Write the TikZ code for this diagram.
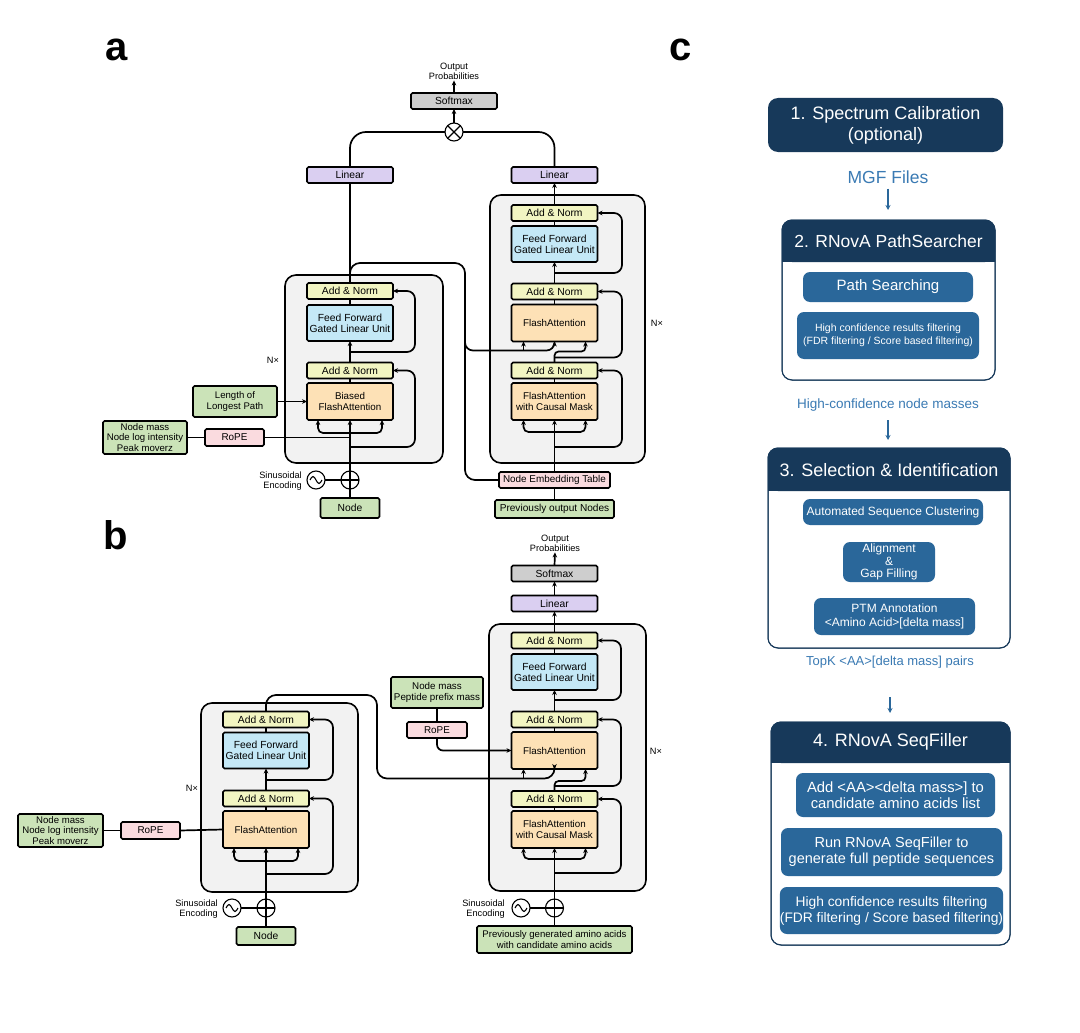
\documentclass[tikz,border=0pt]{standalone}
\usepackage{fontspec}
\setmainfont{Liberation Sans}
\usetikzlibrary{arrows.meta,calc}
\definecolor{cAdd}{HTML}{F2F5C2}
\definecolor{cFF}{HTML}{C4E8F6}
\definecolor{cAtt}{HTML}{FDE1B6}
\definecolor{cLin}{HTML}{DACFF1}
\definecolor{cSm}{HTML}{CECECE}
\definecolor{cGrn}{HTML}{CBE3B8}
\definecolor{cPnk}{HTML}{FADBDF}
\definecolor{cStk}{HTML}{F2F2F2}
\definecolor{cNavy}{HTML}{17395A}
\definecolor{cMid}{HTML}{2A679A}
\definecolor{cTxt}{HTML}{3A7AB3}
\newcommand{\myfs}[2]{\fontsize{#1}{#2}\selectfont}
\begin{document}
\begin{tikzpicture}[x=1pt,y=-1pt,
 blk/.style={draw, line width=1.7pt, rounded corners=1.5pt, inner sep=0pt, outer sep=0pt, align=center, font=\myfs{9.8}{10.8}},
 addn/.style={blk, fill=cAdd, minimum width=86pt, minimum height=16pt, font=\myfs{10.3}{11}},
 ffn/.style={blk, fill=cFF, minimum width=86pt, minimum height=36pt, font=\myfs{10.3}{11.3}},
 attn/.style={blk, fill=cAtt, minimum width=86pt, minimum height=37pt},
 lin/.style={blk, fill=cLin, minimum width=86pt, minimum height=16pt, font=\myfs{10.3}{11}},
 smx/.style={blk, fill=cSm, minimum width=86pt, minimum height=16pt, font=\myfs{10.3}{11}},
 grn/.style={blk, fill=cGrn, font=\myfs{9.6}{10.2}},
 pnk/.style={blk, fill=cPnk, font=\myfs{9.9}{11}},
 stack/.style={draw, line width=1.6pt, fill=cStk, rounded corners=11pt, inner sep=0pt, outer sep=0pt},
 lbl/.style={align=center, inner sep=1pt, font=\myfs{9.2}{10}},
 conn/.style={line width=1.7pt, rounded corners=8pt},
 arr/.style={conn, -{Stealth[length=5pt,width=4.6pt]}},
 circ/.style={circle, draw, line width=1.1pt, fill=white, minimum size=18pt, inner sep=0pt, outer sep=0pt},
 big/.style={font=\myfs{40}{44}\bfseries, inner sep=0pt},
 hdrbox/.style={fill=cNavy, rounded corners=10pt, text=white, align=center, inner sep=0pt, font=\myfs{18}{21}},
 htxt/.style={text=white, inner sep=0pt, font=\myfs{18}{21}},
 cont/.style={draw=cNavy, line width=1pt, fill=white, rounded corners=10pt, inner sep=0pt, outer sep=0pt},
 item/.style={fill=cMid, rounded corners=7pt, text=white, align=center, inner sep=0pt},
 ctext/.style={text=cTxt, inner sep=0pt},
 carr/.style={draw=cMid, line width=1.6pt, -{Stealth[length=5pt,width=5pt]}}
]
\useasboundingbox (0,0) rectangle (1080,1033);

% panel labels
\node[big] (la) at (117,50) {a};
\node[big] (lb) at (116,535) {b};
\node[big] (lc) at (681,50) {c};

% ===================== Panel a =====================
\node[stack, minimum width=158pt, minimum height=188pt] (encA) at (364,369) {};
\node[stack, minimum width=155pt, minimum height=268pt] (decA) at (567.5,329) {};

\node[addn] (eA1) at (350,291) {Add \& Norm};
\node[ffn] (eFF) at (350,323) {Feed Forward\\Gated Linear Unit};
\node[addn] (eA2) at (350,370.5) {Add \& Norm};
\node[attn] (eAtt) at (350,401.5) {Biased\\FlashAttention};
\node[lbl] (nxA) at (273,360) {N×};
\node[grn, minimum width=84pt, minimum height=31pt] (llp) at (235,401.5) {Length of\\Longest Path};
\node[grn, minimum width=84pt, minimum height=33pt] (nmA) at (145,437.5) {Node mass\\Node log intensity\\Peak moverz};
\node[pnk, minimum width=59pt, minimum height=17pt] (ropeA) at (234.5,437.5) {RoPE};
\node[circ] (sinA) at (316,480) {};
\node[circ] (plusA) at (350,480) {};
\node[lbl, anchor=east, align=right] (seA) at (303,481) {Sinusoidal\\Encoding};
\node[grn, minimum width=59pt, minimum height=20pt, font=\myfs{10.3}{11}] (nodeA) at (350,508) {Node};

\node[addn] (dA1) at (554.5,213) {Add \& Norm};
\node[ffn] (dFF) at (554.5,244) {Feed Forward\\Gated Linear Unit};
\node[addn] (dA2) at (554.5,291.5) {Add \& Norm};
\node[attn] (dAtt) at (554.5,323) {FlashAttention};
\node[addn] (dA3) at (554.5,370.5) {Add \& Norm};
\node[attn] (dCa) at (554.5,401.5) {FlashAttention\\with Causal Mask};
\node[lbl] (nxB) at (657,323) {N×};
\node[pnk, minimum width=111pt, minimum height=16pt] (NET) at (554.5,480) {Node Embedding Table};
\node[grn, minimum width=119pt, minimum height=18pt, font=\myfs{10.1}{11}] (pon) at (554.5,509) {Previously output Nodes};

\node[lin] (linA) at (350,175) {Linear};
\node[lin] (linB) at (554.5,175) {Linear};
\node[circ] (ox) at (454,132) {};
\node[smx] (smA) at (454,101) {Softmax};
\node[lbl] (opA) at (454,71) {Output\\Probabilities};

% encoder a connectors
\draw[conn] (nodeA.north) -- (plusA.south);
\draw[conn] (sinA.east) -- (plusA.west);
\draw[line width=1.1pt] (plusA.north) -- (plusA.south) (plusA.west) -- (plusA.east);
\draw[line width=1.1pt] ($(sinA.center)+(-6,0)$) sin ($(sinA.center)+(-3,-3.5)$) cos (sinA.center) sin ($(sinA.center)+(3,3.5)$) cos ($(sinA.center)+(6,0)$);
\draw[arr] (plusA.north) -- (eAtt.south);
\draw[arr, rounded corners=5pt] (350,433) -| ($(eAtt.south)+(-32,0)$);
\draw[arr, rounded corners=5pt] (350,433) -| ($(eAtt.south)+(32,0)$);
\draw[arr] (350,447) -| (415,420) |- (eA2.east);
\draw[conn] (eAtt.north) -- (eA2.south);
\draw[arr] (eA2.north) -- (eFF.south);
\draw[arr] (350,352) -| (415,320) |- (eA1.east);
\draw[conn] (eFF.north) -- (eA1.south);
\draw[conn] (eA1.north) -- (linA.south);
\draw[conn, rounded corners=10pt] (350,280) |- (465,263) |- (NET.west);
\draw[arr] (465,330) |- ($(dAtt.south)+(0,9)$) -- (dAtt.south);
\draw[arr] ($(dAtt.south)+(-31,9)$) -- ($(dAtt.south)+(-31,0)$);
\draw[arr] (llp.east) -- (eAtt.west);
\draw[conn] (nmA.east) -- (ropeA.west);
\draw[conn] (ropeA.east) -- (350,437.5);

% decoder a connectors
\draw[conn] (pon.north) -- (NET.south);
\draw[arr] (NET.north) -- (dCa.south);
\draw[arr, rounded corners=5pt] (554.5,432) -| ($(dCa.south)+(-31,0)$);
\draw[arr, rounded corners=5pt] (554.5,432) -| ($(dCa.south)+(31,0)$);
\draw[arr] (554.5,447) -| (622,420) |- (dA3.east);
\draw[conn] (dCa.north) -- (dA3.south);
\draw[arr, rounded corners=4pt] (dA3.north) |- ($(dAtt.south)+(31,10)$) -- ($(dAtt.south)+(31,0)$);
\draw[arr] (554.5,357.5) -| (622,320) |- (dA2.east);
\draw[conn] (dAtt.north) -- (dA2.south);
\draw[arr] (dA2.north) -- (dFF.south);
\draw[arr] (554.5,273) -| (622,240) |- (dA1.east);
\draw[conn] (dFF.north) -- (dA1.south);
\draw[arr] (dA1.north) -- (linB.south);
\draw[conn, rounded corners=16pt] (linA.north) |- (ox.west);
\draw[conn, rounded corners=16pt] (linB.north) |- (ox.east);
\draw[line width=1.1pt] (ox.45) -- (ox.225) (ox.135) -- (ox.315);
\draw[arr] (ox.north) -- (smA.south);
\draw[arr] (smA.north) -- (opA.south);

% ===================== Panel b =====================
\node[stack, minimum width=157pt, minimum height=189pt] (encB) at (279.5,797.5) {};
\node[stack, minimum width=157pt, minimum height=267pt] (decB) at (567.5,757.5) {};

\node[addn] (fA1) at (266,719.5) {Add \& Norm};
\node[ffn] (fFF) at (266,750.5) {Feed Forward\\Gated Linear Unit};
\node[addn] (fA2) at (266,798.5) {Add \& Norm};
\node[attn] (fAtt) at (266,829.5) {FlashAttention};
\node[lbl] (nxC) at (192,788) {N×};
\node[grn, minimum width=85pt, minimum height=33pt] (nmB) at (60.5,830.5) {Node mass\\Node log intensity\\Peak moverz};
\node[pnk, minimum width=59pt, minimum height=17pt] (ropeB) at (150.5,830.5) {RoPE};
\node[circ] (sinB) at (232,908) {};
\node[circ] (plusB) at (266,908) {};
\node[lbl, anchor=east, align=right] (seB) at (219,909) {Sinusoidal\\Encoding};
\node[grn, minimum width=59pt, minimum height=18pt, font=\myfs{10.3}{11}] (nodeB) at (266,936) {Node};

\node[addn] (gA1) at (554.5,640.5) {Add \& Norm};
\node[ffn] (gFF) at (554.5,672) {Feed Forward\\Gated Linear Unit};
\node[addn] (gA2) at (554.5,719.5) {Add \& Norm};
\node[attn] (gAtt) at (554.5,750.5) {FlashAttention};
\node[addn] (gA3) at (554.5,799) {Add \& Norm};
\node[attn] (gCa) at (554.5,829.5) {FlashAttention\\with Causal Mask};
\node[lbl] (nxD) at (656,751) {N×};
\node[lin] (gLin) at (554.5,603.5) {Linear};
\node[smx] (gSm) at (554.5,573.5) {Softmax};
\node[lbl] (opB) at (555,543) {Output\\Probabilities};
\node[grn, minimum width=92pt, minimum height=31pt, font=\myfs{9.8}{11}] (nmC) at (437,692.5) {Node mass\\Peptide prefix mass};
\node[pnk, minimum width=60pt, minimum height=16pt] (ropeC) at (437,730) {RoPE};
\node[circ] (sinC) at (521,908) {};
\node[circ] (plusC) at (554.5,908) {};
\node[lbl, anchor=east, align=right] (seC) at (506,909) {Sinusoidal\\Encoding};
\node[grn, minimum width=155pt, minimum height=27pt, font=\myfs{9.6}{11}] (pga) at (554.5,939.5) {Previously generated amino acids\\with candidate amino acids};

% encoder b connectors
\draw[conn] (nodeB.north) -- (plusB.south);
\draw[conn] (sinB.east) -- (plusB.west);
\draw[line width=1.1pt] (plusB.north) -- (plusB.south) (plusB.west) -- (plusB.east);
\draw[line width=1.1pt] ($(sinB.center)+(-6,0)$) sin ($(sinB.center)+(-3,-3.5)$) cos (sinB.center) sin ($(sinB.center)+(3,3.5)$) cos ($(sinB.center)+(6,0)$);
\draw[arr] (plusB.north) -- (fAtt.south);
\draw[arr, rounded corners=5pt] (266,861) -| ($(fAtt.south)+(-32,0)$);
\draw[arr, rounded corners=5pt] (266,861) -| ($(fAtt.south)+(32,0)$);
\draw[arr] (266,874) -| (333,850) |- (fA2.east);
\draw[conn] (fAtt.north) -- (fA2.south);
\draw[arr] (fA2.north) -- (fFF.south);
\draw[arr] (266,780) -| (333,750) |- (fA1.east);
\draw[conn] (fFF.north) -- (fA1.south);
\draw[arr, rounded corners=10pt] (fA1.north) |- (377,695) |- ($(gAtt.south)+(0,9.5)$) -- (gAtt.south);
\draw[arr] ($(gAtt.south)+(-31,9.5)$) -- ($(gAtt.south)+(-31,0)$);
\draw[conn] (nmB.east) -- (ropeB.west);
\draw[conn] (ropeB.east) -- (fAtt.west);

% decoder b connectors
\draw[conn] (pga.north) -- (plusC.south);
\draw[conn] (sinC.east) -- (plusC.west);
\draw[line width=1.1pt] (plusC.north) -- (plusC.south) (plusC.west) -- (plusC.east);
\draw[line width=1.1pt] ($(sinC.center)+(-6,0)$) sin ($(sinC.center)+(-3,-3.5)$) cos (sinC.center) sin ($(sinC.center)+(3,3.5)$) cos ($(sinC.center)+(6,0)$);
\draw[arr] (plusC.north) -- (gCa.south);
\draw[arr, rounded corners=5pt] (554.5,859) -| ($(gCa.south)+(-31,0)$);
\draw[arr, rounded corners=5pt] (554.5,859) -| ($(gCa.south)+(31,0)$);
\draw[arr] (554.5,873) -| (621,850) |- (gA3.east);
\draw[conn] (gCa.north) -- (gA3.south);
\draw[arr, rounded corners=4pt] (gA3.north) |- ($(gAtt.south)+(31,12)$) -- ($(gAtt.south)+(31,0)$);
\draw[arr] (554.5,786) -| (621,760) |- (gA2.east);
\draw[conn] (gAtt.north) -- (gA2.south);
\draw[arr] (gA2.north) -- (gFF.south);
\draw[arr] (554.5,700) -| (621,670) |- (gA1.east);
\draw[conn] (gFF.north) -- (gA1.south);
\draw[arr] (gA1.north) -- (gLin.south);
\draw[arr] (gLin.north) -- (gSm.south);
\draw[arr] (gSm.north) -- (opB.south);
\draw[conn] (nmC.south) -- (ropeC.north);
\draw[arr, rounded corners=6pt] (ropeC.south) |- (gAtt.west);

% ===================== Panel c =====================
\node[hdrbox, minimum width=235pt, minimum height=54pt] (c1) at (885.5,125) {1. Spectrum Calibration\\(optional)};
\node[ctext, font=\myfs{17.5}{20}] (mgf) at (888,177) {MGF Files};

% box 2
\node[cont, minimum width=213pt, minimum height=160pt] (c2) at (888.5,300) {};
\fill[cNavy, rounded corners=10pt] (c2.north west) rectangle ($(c2.north east)+(0,42)$);
\fill[cNavy] ($(c2.north west)+(0,20)$) rectangle ($(c2.north east)+(0,42)$);
\draw[cNavy, line width=1pt, rounded corners=10pt] (c2.north west) rectangle (c2.south east);
\node[htxt, font=\myfs{17.5}{20}] (h2) at (888.5,241) {2. RNovA PathSearcher};
\node[item, minimum width=170pt, minimum height=30pt, font=\myfs{15}{17}] (ps) at (888,287) {Path Searching};
\node[item, minimum width=182pt, minimum height=47pt, font=\myfs{10.5}{12.5}] (hc1) at (888,335.5) {High confidence results filtering\\(FDR filtering / Score based filtering)};

\node[ctext, font=\myfs{13.5}{16}] (hcn) at (888,405) {High-confidence node masses};

% box 3
\node[cont, minimum width=242pt, minimum height=200pt] (c3) at (889,548) {};
\fill[cNavy, rounded corners=10pt] (c3.north west) rectangle ($(c3.north east)+(0,43)$);
\fill[cNavy] ($(c3.north west)+(0,20)$) rectangle ($(c3.north east)+(0,43)$);
\draw[cNavy, line width=1pt, rounded corners=10pt] (c3.north west) rectangle (c3.south east);
\node[htxt] (h3) at (889,470) {3. Selection \& Identification};
\node[item, minimum width=180pt, minimum height=26pt, font=\myfs{12}{14}] (asc) at (893,512) {Automated Sequence Clustering};
\node[item, minimum width=92pt, minimum height=40pt, font=\myfs{12}{12.5}] (agf) at (889,562) {Alignment\\\&\\Gap Filling};
\node[item, minimum width=161pt, minimum height=37pt, font=\myfs{12}{13.5}] (ptm) at (894.5,616.5) {PTM Annotation\\<Amino Acid>[delta mass]};

\node[ctext, font=\myfs{13}{15}] (topk) at (890,662) {TopK <AA>[delta mass] pairs};

% box 4
\node[cont, minimum width=239pt, minimum height=223pt] (c4) at (890.5,833.5) {};
\fill[cNavy, rounded corners=10pt] (c4.north west) rectangle ($(c4.north east)+(0,41)$);
\fill[cNavy] ($(c4.north west)+(0,20)$) rectangle ($(c4.north east)+(0,41)$);
\draw[cNavy, line width=1pt, rounded corners=10pt] (c4.north west) rectangle (c4.south east);
\node[htxt] (h4) at (890.5,742) {4. RNovA SeqFiller};
\node[item, minimum width=199pt, minimum height=44pt, font=\myfs{14.8}{16}] (add) at (895.5,795) {Add <AA><delta mass>] to\\candidate amino acids list};
\node[item, minimum width=221pt, minimum height=48pt, font=\myfs{14.5}{16}] (run) at (891.5,852) {Run RNovA SeqFiller to\\generate full peptide sequences};
\node[item, minimum width=221pt, minimum height=47pt, font=\myfs{13.8}{16}] (hc2) at (891.5,910.5) {High confidence results filtering\\(FDR filtering / Score based filtering)};

% panel c arrows
\draw[carr, shorten <=5pt, shorten >=10pt] (mgf.south) -- (c2.north -| mgf.south);
\draw[carr, shorten <=9pt, shorten >=8pt] (hcn.south) -- (c3.north -| hcn.south);
\draw[carr, shorten <=29pt, shorten >=9pt] (topk.south) -- (c4.north -| topk.south);
\end{tikzpicture}
\end{document}
